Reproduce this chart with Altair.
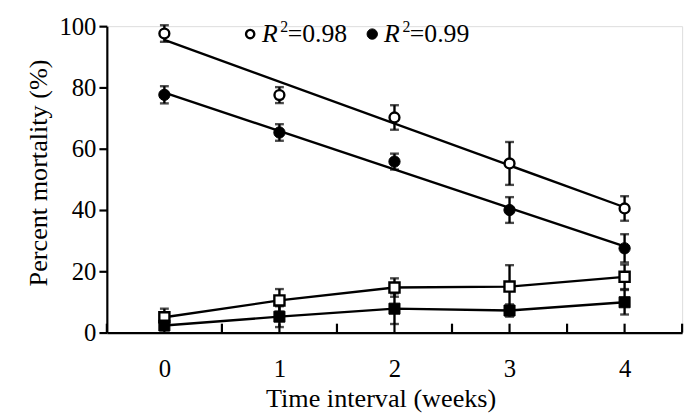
import altair as alt
import pandas as pd

weeks = [0, 1, 2, 3, 4]
open_circle_mean = [97.6, 77.5, 70.2, 55.2, 40.5]
open_circle_err = [2.7, 2.6, 4.0, 7.0, 4.0]
filled_circle_mean = [77.6, 65.3, 55.8, 40.0, 27.5]
filled_circle_err = [2.8, 2.7, 2.6, 4.2, 4.6]
open_square_mean = [5.0, 10.5, 14.7, 15.0, 18.2]
open_square_err = [2.8, 3.7, 3.0, 7.0, 4.0]
filled_square_mean = [2.3, 5.2, 7.8, 7.2, 9.9]
filled_square_err = [1.5, 3.4, 5.0, 2.0, 4.0]

tick_positions = [-0.5, 0, 0.5, 1, 1.5, 2, 2.5, 3, 3.5, 4, 4.5]
y_ticks = [0, 20, 40, 60, 80, 100]
legend_labels = ["=0.98", "=0.99"]

FONT = "Liberation Serif"
LW = 2.4

rows = []
for name, m, e in [
    ("oc", open_circle_mean, open_circle_err),
    ("fc", filled_circle_mean, filled_circle_err),
    ("os", open_square_mean, open_square_err),
    ("fs", filled_square_mean, filled_square_err),
]:
    for w, mv, ev in zip(weeks, m, e):
        rows.append({"series": name, "week": w, "mean": mv,
                     "lo": mv - ev, "hi": mv + ev})
df = pd.DataFrame(rows)

xs = alt.Scale(domain=[-0.5, 4.5], nice=False, zero=False)
ys = alt.Scale(domain=[0, 100], nice=False)

base = alt.Chart(df)

x_enc = alt.X("week:Q", scale=xs, axis=alt.Axis(
    values=weeks, format="d", ticks=False, grid=False, labelFont=FONT,
    labelFontSize=25, labelColor="black", labelPadding=24,
    domainColor="black", domainWidth=2.2,
    title="Time interval (weeks)", titleFont=FONT, titleFontSize=26.5,
    titleFontWeight="normal", titleColor="black", titleX=277, titleY=67,
    titleBaseline="middle"))
y_enc = alt.Y("mean:Q", scale=ys, axis=alt.Axis(
    values=y_ticks, format="d", grid=False, tickSize=8, tickWidth=2.2,
    tickColor="black", labelFont=FONT, labelFontSize=25, labelColor="black",
    labelPadding=3, domainColor="black", domainWidth=2.2,
    title="Percent mortality (%)", titleFont=FONT, titleFontSize=26.5,
    titleFontWeight="normal", titleColor="black", titleX=-69, titleY=148,
    titleAlign="center", titleBaseline="middle", titleAngle=-90))

X = alt.X("week:Q", scale=xs)
Y = alt.Y("mean:Q", scale=ys)

errbars = base.mark_rule(color="black", strokeWidth=LW).encode(
    x=x_enc, y=alt.Y("lo:Q", scale=ys), y2="hi:Q")
caps_hi = base.mark_tick(color="black", thickness=LW, size=9, orient="horizontal").encode(
    x=X, y=alt.Y("hi:Q", scale=ys))
caps_lo = base.mark_tick(color="black", thickness=LW, size=9, orient="horizontal").encode(
    x=X, y=alt.Y("lo:Q", scale=ys))

reg = base.transform_filter(
    alt.FieldOneOfPredicate(field="series", oneOf=["oc", "fc"])
).transform_regression("week", "mean", groupby=["series"]).mark_line(
    color="black", strokeWidth=LW).encode(x=X, y=Y, detail="series:N")

conn = base.transform_filter(
    alt.FieldOneOfPredicate(field="series", oneOf=["os", "fs"])
).mark_line(color="black", strokeWidth=LW).encode(x=X, y=Y, detail="series:N")

pts_oc = base.transform_filter(alt.datum.series == "oc").mark_point(
    shape="circle", size=100, filled=True, fill="white", stroke="black",
    strokeWidth=2.4, opacity=1).encode(x=X, y=y_enc)
pts_fc = base.transform_filter(alt.datum.series == "fc").mark_point(
    shape="circle", size=130, filled=True, fill="black", stroke="black",
    strokeWidth=1, opacity=1).encode(x=X, y=Y)
pts_os = base.transform_filter(alt.datum.series == "os").mark_point(
    shape="square", size=105, filled=True, fill="white", stroke="black",
    strokeWidth=2.4, opacity=1).encode(x=X, y=Y)
pts_fs = base.transform_filter(alt.datum.series == "fs").mark_point(
    shape="square", size=125, filled=True, fill="black", stroke="black",
    strokeWidth=1, opacity=1).encode(x=X, y=Y)

ticks_df = pd.DataFrame({"t": tick_positions})
inner_ticks = alt.Chart(ticks_df).mark_rule(color="black", strokeWidth=2.2).encode(
    x=alt.X("t:Q", scale=xs), y=alt.value(310), y2=alt.value(301))

# legend
leg_df = pd.DataFrame({"lab": legend_labels, "k": [0, 1]})
leg_layers = []
for k, (sym_x, fill) in enumerate([(145, "white"), (268.5, "black")]):
    sub = alt.Chart(leg_df).transform_filter(alt.datum.k == k)
    leg_layers.append(sub.mark_point(
        shape="circle", size=70 if fill == "white" else 110, filled=True,
        fill=fill, stroke="black", strokeWidth=2.4 if fill == "white" else 1,
        opacity=1).encode(x=alt.value(sym_x), y=alt.value(8)))
    leg_layers.append(sub.mark_text(
        text="R", font=FONT, fontSize=26, fontStyle="italic", align="left",
        baseline="alphabetic", color="black").encode(
        x=alt.value(sym_x + 12), y=alt.value(16)))
    leg_layers.append(sub.mark_text(
        text="2", font=FONT, fontSize=16, align="left", baseline="alphabetic",
        color="black").encode(x=alt.value(sym_x + 30.5), y=alt.value(6)))
    leg_layers.append(sub.mark_text(
        font=FONT, fontSize=26, align="left", baseline="alphabetic",
        color="black").encode(x=alt.value(sym_x + 38), y=alt.value(16),
                              text="lab:N"))

chart = alt.layer(
    errbars, caps_hi, caps_lo, reg, conn, inner_ticks,
    pts_oc, pts_fc, pts_os, pts_fs, *leg_layers,
).properties(
    width=582, height=310,
    autosize=alt.AutoSizeParams(type="none"),
    padding={"left": 100, "top": 16, "right": 10, "bottom": 80},
).configure_view(stroke=None).configure(background="white")

chart.save("out.html", embed_options={"renderer": "svg", "actions": False})
